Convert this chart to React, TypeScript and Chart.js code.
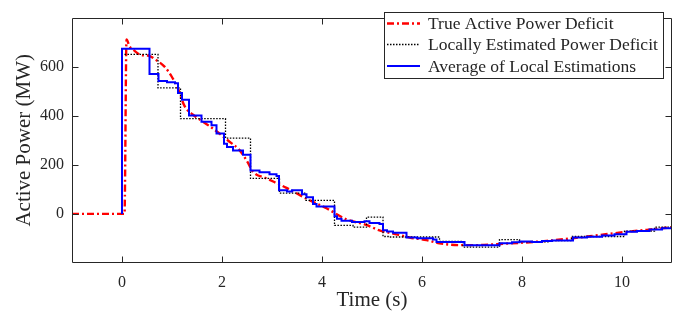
import React, { useEffect, useRef } from 'react';
import { Chart, registerables } from 'chart.js';

Chart.register(...registerables);

// ---- Data ----
const trueTime = [-1, 0.05, 0.09, 0.15, 0.22, 0.39, 0.52, 0.69, 0.85, 0.99, 1.12, 1.25, 1.42, 1.62, 1.89, 2.12, 2.35, 2.5, 2.62, 2.89, 3.29, 3.69, 4.09, 4.49, 4.89, 5.15, 5.42, 5.75, 6.09, 6.35, 6.75, 7.1, 7.42, 7.95, 8.49, 9.02, 9.55, 10.09, 10.5, 11];
const trueDeficit = [0, 0, 711, 683, 670, 647, 645, 626, 600, 561, 510, 440, 404, 376, 337, 299, 260, 215, 172, 145, 106, 62, 23, -22, -45, -67, -80, -96, -107, -120, -127, -127, -124, -118, -110, -99, -86, -73, -65, -54];

const localTime = [0, 0, 0.72, 1.17, 2.07, 2.57, 3.15, 3.68, 4.25, 4.62, 4.89, 5.22, 5.35, 6.35, 6.82, 7.55, 7.95, 8.55, 8.99, 10.05, 10.65, 11];
const localEstimate = [0, 650, 514, 388, 309, 145, 85, 55, -47, -54, -13, -92, -94, -112, -135, -105, -114, -109, -92, -70, -54, -54];

const avgTime = [0, 0, 0.55, 0.73, 0.9, 1.06, 1.12, 1.2, 1.34, 1.59, 1.79, 1.89, 2.04, 2.1, 2.22, 2.42, 2.57, 2.75, 2.95, 3.09, 3.14, 3.3, 3.4, 3.6, 3.69, 3.82, 3.89, 4.25, 4.3, 4.39, 4.6, 4.85, 4.95, 5.15, 5.22, 5.3, 5.42, 5.69, 5.9, 6.22, 6.29, 6.85, 7.55, 7.8, 7.95, 8.2, 8.4, 8.6, 9.02, 9.3, 9.6, 9.85, 10.09, 10.3, 10.55, 10.8, 11];
const avgEstimate = [0, 673, 570, 542, 537, 532, 493, 465, 401, 376, 361, 328, 286, 273, 258, 241, 177, 170, 162, 155, 96, 91, 96, 80, 68, 40, 30, -9, -20, -28, -33, -30, -37, -41, -67, -72, -77, -96, -99, -104, -114, -128, -120, -115, -112, -114, -110, -108, -96, -93, -88, -83, -73, -70, -63, -58, -56];

const xTicks = [0, 2, 4, 6, 8, 10];
const yTicks = [0, 200, 400, 600];
const seriesNames = ['True Active Power Deficit', 'Locally Estimated Power Deficit', 'Average of Local Estimations'];

const FONT = '"Liberation Serif", "Times New Roman", serif';
const AXIS = '#262626';

const toXY = (xs: number[], ys: number[]) => xs.map((x, i) => ({ x, y: ys[i] }));

const framePlugin = {
  id: 'frame',
  afterDatasetsDraw(chart: any) {
    const { ctx, chartArea: a, scales } = chart;
    const L = Math.round(a.left) + 0.5;
    const R = Math.round(a.right) - 0.5;
    const T = Math.round(a.top) + 0.5;
    const B = Math.round(a.bottom) - 0.5;
    ctx.save();
    ctx.strokeStyle = AXIS;
    ctx.lineWidth = 1;
    ctx.setLineDash([]);
    ctx.beginPath();
    ctx.rect(L, T, R - L, B - T);
    ctx.stroke();
    const tl = 6;
    ctx.beginPath();
    for (const v of xTicks) {
      const px = Math.round(scales.x.getPixelForValue(v)) + 0.5;
      ctx.moveTo(px, B); ctx.lineTo(px, B - tl);
      ctx.moveTo(px, T); ctx.lineTo(px, T + tl);
    }
    for (const v of yTicks) {
      const py = Math.round(scales.y.getPixelForValue(v)) + 0.5;
      ctx.moveTo(L, py); ctx.lineTo(L + tl, py);
      ctx.moveTo(R, py); ctx.lineTo(R - tl, py);
    }
    ctx.stroke();

    // legend
    const bx = 384.5, by = 12.5, bw = 279, bh = 66;
    ctx.fillStyle = '#ffffff';
    ctx.fillRect(bx, by, bw, bh);
    ctx.strokeStyle = AXIS;
    ctx.lineWidth = 1;
    ctx.strokeRect(bx, by, bw, bh);
    const rows = [23.5, 44.5, 66];
    const styles = [
      { color: '#ff0000', width: 2.4, dash: [7, 3, 2, 3] },
      { color: '#000000', width: 1.3, dash: [1.5, 1.5] },
      { color: '#0000ff', width: 2, dash: [] as number[] },
    ];
    ctx.font = `17.5px ${FONT}`;
    ctx.textBaseline = 'middle';
    ctx.textAlign = 'left';
    seriesNames.forEach((name, i) => {
      const s = styles[i];
      ctx.beginPath();
      ctx.strokeStyle = s.color;
      ctx.lineWidth = s.width;
      ctx.setLineDash(s.dash);
      ctx.moveTo(387, rows[i]);
      ctx.lineTo(420, rows[i]);
      ctx.stroke();
      ctx.setLineDash([]);
      ctx.fillStyle = AXIS;
      ctx.fillText(name, 428, rows[i] + 1);
    });
    ctx.restore();
  },
};

export default function App() {
  const ref = useRef<HTMLCanvasElement>(null);
  useEffect(() => {
    document.body.style.margin = '0';
    const canvas = ref.current!;
    const chart = new Chart(canvas, {
      type: 'line',
      data: {
        datasets: [
          {
            label: seriesNames[2],
            data: toXY(avgTime, avgEstimate),
            borderColor: '#0000ff',
            borderWidth: 2,
            stepped: 'before',
            pointRadius: 0,
            fill: false,
            order: 0,
          },
          {
            label: seriesNames[1],
            data: toXY(localTime, localEstimate),
            borderColor: '#000000',
            borderWidth: 1.3,
            borderDash: [1.5, 1.5],
            stepped: 'before',
            pointRadius: 0,
            fill: false,
            order: 1,
          },
          {
            label: seriesNames[0],
            data: toXY(trueTime, trueDeficit),
            borderColor: '#ff0000',
            borderWidth: 2.4,
            borderDash: [7, 3, 2, 3],
            tension: 0.3,
            cubicInterpolationMode: 'monotone',
            pointRadius: 0,
            fill: false,
            order: 2,
          },
        ],
      },
      options: {
        animation: false,
        responsive: false,
        events: [],
        layout: { padding: { top: 4, right: 13, left: 0, bottom: 0 } },
        plugins: { legend: { display: false }, tooltip: { enabled: false } },
        scales: {
          x: {
            type: 'linear',
            min: -1,
            max: 11,
            grid: { display: false, drawTicks: false },
            border: { display: false },
            afterBuildTicks: (s: any) => { s.ticks = xTicks.map((v) => ({ value: v })); },
            afterFit: (s: any) => { s.height = 51; },
            ticks: { font: { family: FONT, size: 16 }, color: AXIS, padding: 10, maxRotation: 0, autoSkip: false },
            title: { display: true, text: 'Time (s)', font: { family: FONT, size: 21 }, color: AXIS, padding: { top: 0, bottom: 1 } },
          },
          y: {
            type: 'linear',
            min: -200,
            max: 800,
            grid: { display: false, drawTicks: false },
            border: { display: false },
            afterBuildTicks: (s: any) => { s.ticks = yTicks.map((v) => ({ value: v })); },
            afterFit: (s: any) => { s.width = 72; },
            ticks: { font: { family: FONT, size: 16 }, color: AXIS, padding: 8, autoSkip: false },
            title: { display: true, text: 'Active Power (MW)', font: { family: FONT, size: 21 }, color: AXIS, padding: { top: 12, bottom: 0 } },
          },
        },
      },
      plugins: [framePlugin],
    });
    return () => chart.destroy();
  }, []);
  return (
    <div style={{ position: 'absolute', left: 0, top: 0, width: 685, height: 314, background: '#fff' }}>
      <canvas ref={ref} width={685} height={314} style={{ display: 'block', width: 685, height: 314 }} />
    </div>
  );
}
